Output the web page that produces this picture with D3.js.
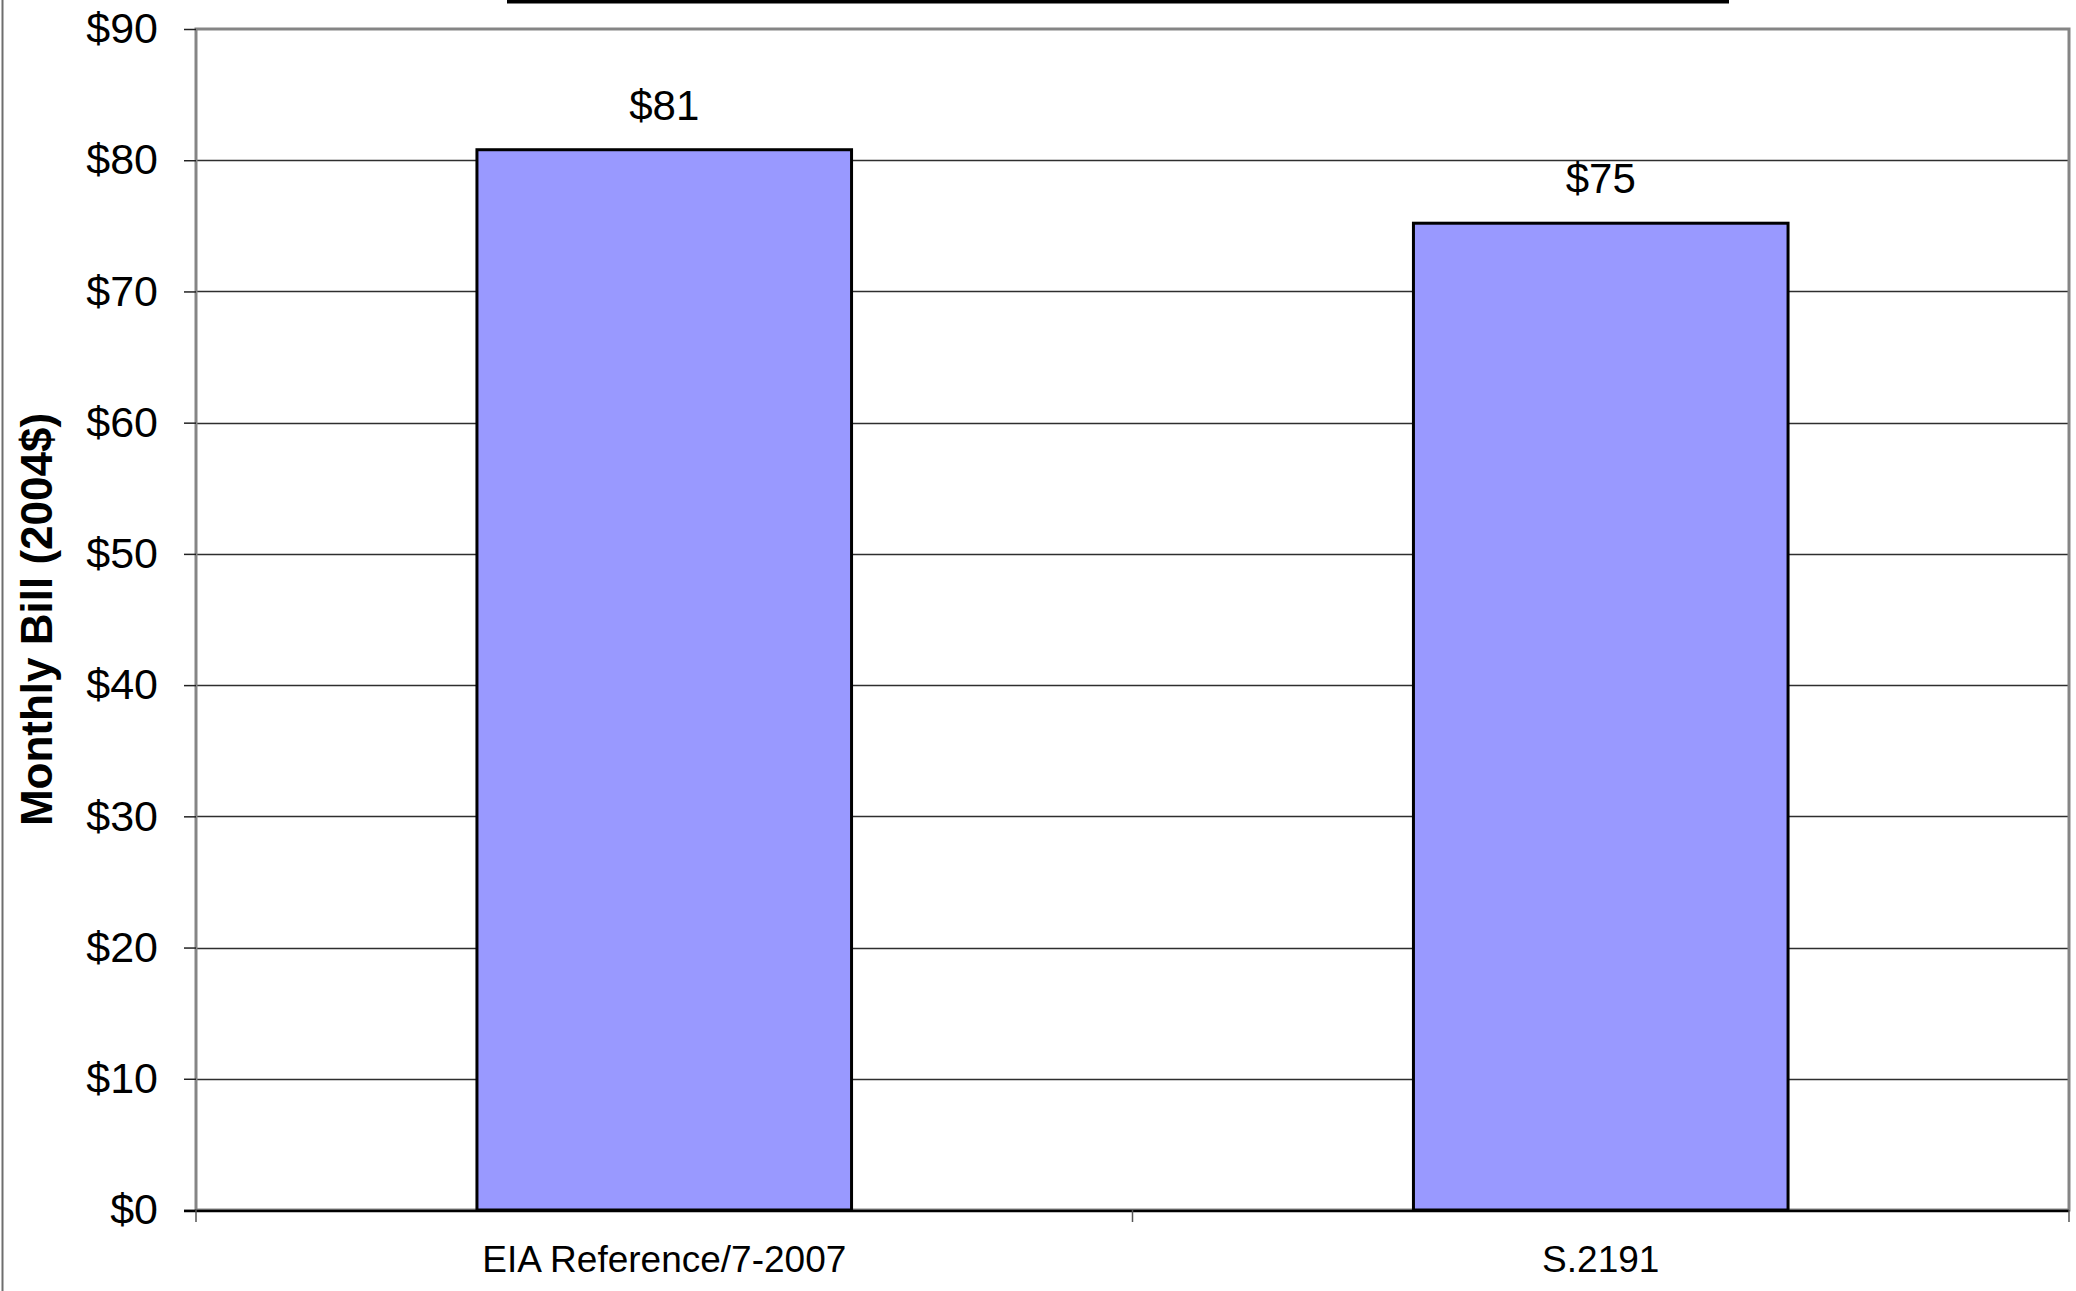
<!DOCTYPE html>
<html>
<head>
<meta charset="utf-8">
<script src="https://cdn.jsdelivr.net/npm/d3@7"></script>
<style>
  body { margin: 0; background: #fff; }
  svg { display: block; }
  text { font-family: "Liberation Sans", Arial, sans-serif; fill: #000; }
</style>
</head>
<body>
<script>
// Average residential monthly electricity bill, by scenario (2004 dollars)
const categories = ["EIA Reference/7-2007", "S.2191"];
const monthlyBill = [80.8, 75.2];
const yTickValues = [0, 10, 20, 30, 40, 50, 60, 70, 80, 90];
const yTitle = "Monthly Bill (2004$)";

const W = 2076, H = 1291;
const margin = { top: 29, right: 7, bottom: 81, left: 196 };

const svg = d3.select("body").append("svg")
  .attr("width", W).attr("height", H);

const x = d3.scaleBand()
  .domain(categories)
  .range([margin.left, W - margin.right])
  .paddingInner(0.6)
  .paddingOuter(0.3);

const y = d3.scaleLinear()
  .domain([0, 90])
  .range([H - margin.bottom, margin.top]);

const x0 = margin.left, x1 = W - margin.right;
const yBottom = y(0), yTop = y(90);

// chart-area frame edge on the left
svg.append("line")
  .attr("x1", 2.5).attr("x2", 2.5).attr("y1", 0).attr("y2", H)
  .attr("stroke", "#6e6e6e").attr("stroke-width", 2);

// rule above the plot
svg.append("line")
  .attr("x1", 507).attr("x2", 1729).attr("y1", 1.5).attr("y2", 1.5)
  .attr("stroke", "#000").attr("stroke-width", 4);

// horizontal gridlines
svg.append("g")
  .selectAll("line")
  .data(yTickValues.filter(v => v > 0 && v < 90))
  .join("line")
  .attr("x1", x0).attr("x2", x1)
  .attr("y1", d => Math.round(y(d)) + 0.5)
  .attr("y2", d => Math.round(y(d)) + 0.5)
  .attr("stroke", "#2e2e2e").attr("stroke-width", 1.3);

// plot area border (gray)
svg.append("rect")
  .attr("x", x0).attr("y", yTop)
  .attr("width", x1 - x0).attr("height", yBottom - yTop)
  .attr("fill", "none")
  .attr("stroke", "#858585").attr("stroke-width", 3);

// bars
svg.append("g")
  .selectAll("rect")
  .data(categories.map((c, i) => ({ c, v: monthlyBill[i] })))
  .join("rect")
  .attr("x", d => x(d.c))
  .attr("y", d => y(d.v))
  .attr("width", x.bandwidth())
  .attr("height", d => y(0) - y(d.v))
  .attr("fill", "#9999ff")
  .attr("stroke", "#000")
  .attr("stroke-width", 3);

// value labels
const fmt = d => "$" + d3.format(".0f")(d);
svg.append("g")
  .selectAll("text")
  .data(categories.map((c, i) => ({ c, v: monthlyBill[i] })))
  .join("text")
  .attr("x", d => x(d.c) + x.bandwidth() / 2)
  .attr("y", d => y(d.v) - 30)
  .attr("text-anchor", "middle")
  .style("font-size", "42px")
  .text(d => fmt(d.v));

// y axis
const yAxis = svg.append("g")
  .attr("transform", `translate(${x0},0)`)
  .call(d3.axisLeft(y)
    .tickValues(yTickValues)
    .tickFormat(d => "$" + d)
    .tickSize(12)
    .tickPadding(26));
yAxis.select(".domain").remove();
yAxis.selectAll(".tick line").attr("stroke", "#222").attr("stroke-width", 1.5);
yAxis.selectAll(".tick text")
  .style("font-size", "43px")
  .style("font-family", "'Liberation Sans', Arial, sans-serif")
  .attr("fill", "#000");

// x axis line and category boundary ticks
svg.append("line")
  .attr("x1", x0 - 12).attr("x2", x1)
  .attr("y1", yBottom + 1).attr("y2", yBottom + 1)
  .attr("stroke", "#000").attr("stroke-width", 2.5);
svg.append("g")
  .selectAll("line")
  .data(d3.range(categories.length + 1))
  .join("line")
  .attr("x1", i => x.range()[0] + i * x.step())
  .attr("x2", i => x.range()[0] + i * x.step())
  .attr("y1", yBottom).attr("y2", yBottom + 12)
  .attr("stroke", "#555").attr("stroke-width", 1.5);

const xAxis = svg.append("g")
  .attr("transform", `translate(0,${yBottom})`)
  .call(d3.axisBottom(x).tickSize(0).tickPadding(36));
xAxis.select(".domain").remove();
xAxis.selectAll(".tick text")
  .style("font-size", "37px")
  .style("font-family", "'Liberation Sans', Arial, sans-serif")
  .attr("fill", "#000");

// y axis title
svg.append("text")
  .attr("transform", `translate(52,${(yTop + yBottom) / 2}) rotate(-90)`)
  .attr("text-anchor", "middle")
  .style("font-size", "44px")
  .style("font-weight", "bold")
  .text(yTitle);
</script>
</body>
</html>
